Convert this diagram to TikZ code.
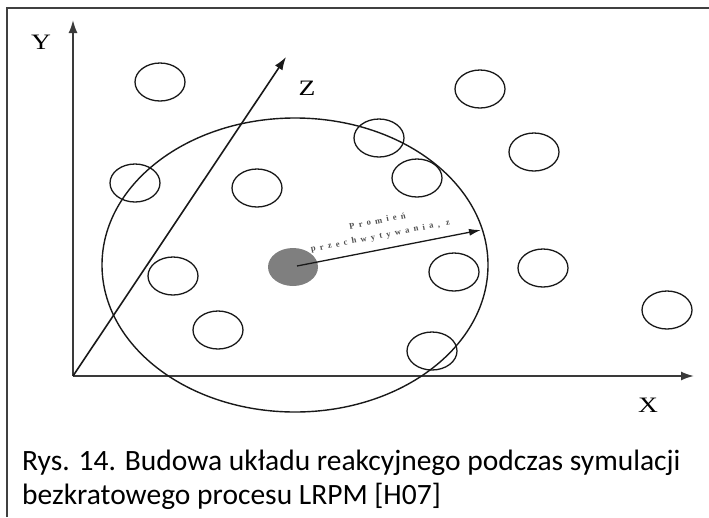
\documentclass[tikz,border=0pt]{standalone}
\usepackage{fontspec}
\setmainfont{Liberation Serif}
\newfontfamily\capfont{Carlito}
\usetikzlibrary{arrows.meta}
\definecolor{axisgray}{HTML}{3A3A3A}
\definecolor{seedgray}{HTML}{7F7F7F}
\definecolor{lblgray}{HTML}{505050}
\begin{document}
\begin{tikzpicture}[x=1pt,y=-1pt,
  axis/.style={draw=axisgray,line width=1.8pt,-{Latex[length=13pt,width=9pt]}},
  axlabel/.style={font=\fontsize{22}{22}\selectfont,xscale=1.25,inner sep=0pt},
  radlabel/.style={rotate=11,text=lblgray,inner sep=0pt,align=center,font=\bfseries\fontsize{8.6}{15}\selectfont\addfontfeature{LetterSpace=50}},
  caption/.style={anchor=base west,inner sep=0pt,font=\capfont\fontsize{29.5}{34}\selectfont}]
\useasboundingbox (0,0) rectangle (709,517);
% frame
\draw[line width=1.3pt,black!75] (7,517) -- (7,8) -- (709,8);
% axes
\coordinate (O) at (73,376);
\coordinate (Yend) at (73,20);
\coordinate (Xend) at (694,376);
\coordinate (Zend) at (286,57);
\draw[axis] (O) -- (Yend);
\draw[axis] (O) -- (Xend);
\draw[axis,draw=black!90,line width=1.6pt] (O) -- (Zend);
\node[axlabel] (ly) at (41,42) {Y};
\node[axlabel] (lz) at (307,88) {Z};
\node[axlabel] (lx) at (648,405) {X};
% capture sphere
\draw[line width=1.4pt,black!90] (295,265) ellipse [x radius=193, y radius=147];
% particles
\foreach \px/\py in {160/82, 480/89, 379/138, 534/152, 135/183, 257/188, 417/178,
  173/276, 218/330, 454/272, 432/351, 543/268, 667/310}
  \draw[line width=1.3pt,black!90] (\px,\py) ellipse [x radius=25, y radius=19];
% central particle
\fill[seedgray] (293,267) ellipse [x radius=25, y radius=19];
\coordinate (C) at (297,266);
\coordinate (R) at (481,230);
\draw[line width=1.3pt,black!90,-{Latex[length=12pt,width=7pt]}] (C) -- (R);
\node[radlabel] (tl) at (379,229) {Promień\\przechwytywania, z};
% caption
\node[caption] (cap1) at (22,470) {Rys. 14. Budowa układu reakcyjnego podczas symulacji};
\node[caption] (cap2) at (22,504) {bezkratowego procesu LRPM [H07]};
\end{tikzpicture}
\end{document}
